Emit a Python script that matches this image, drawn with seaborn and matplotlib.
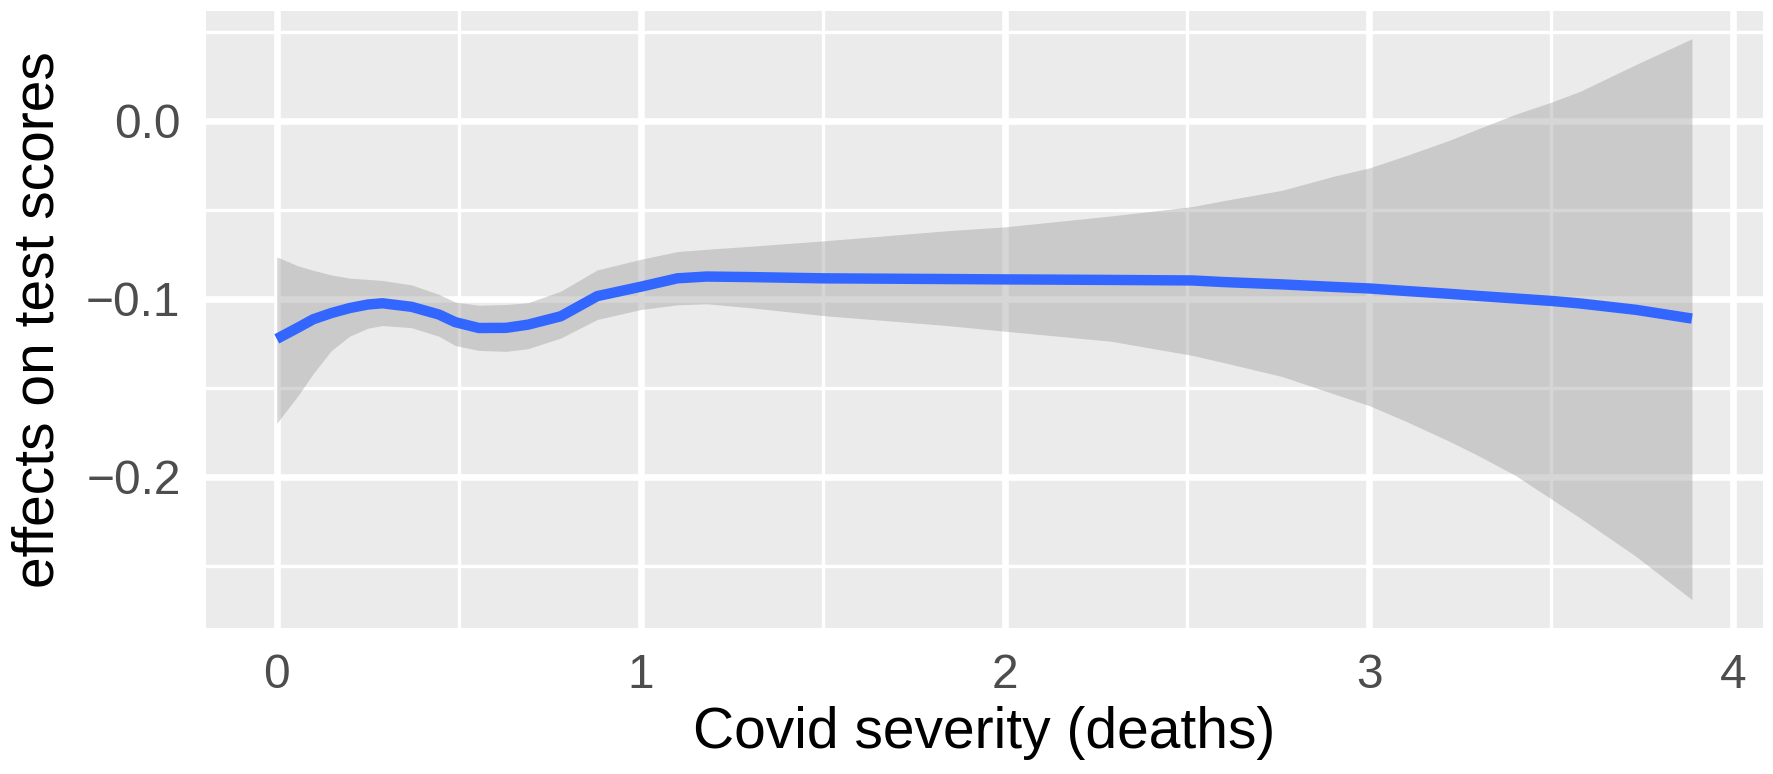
import matplotlib
matplotlib.use("Agg")
import matplotlib.pyplot as plt
import seaborn as sns
import numpy as np
import pandas as pd
from matplotlib.ticker import FixedLocator

# ---- data ----
severity = [0.00, 0.06, 0.10, 0.15, 0.20, 0.25, 0.29, 0.37, 0.445, 0.49, 0.555, 0.63,
            0.69, 0.78, 0.88, 1.00, 1.10, 1.18, 1.30, 1.50, 1.84, 2.00, 2.29, 2.515,
            2.60, 2.76, 2.90, 3.00, 3.10, 3.22, 3.30, 3.40, 3.50, 3.578, 3.733, 3.886]
effect = [-0.1225, -0.1160, -0.1115, -0.1080, -0.1052, -0.1032, -0.1025, -0.1045, -0.1088,
          -0.1131, -0.1164, -0.1163, -0.1145, -0.1098, -0.0985, -0.0932, -0.0885, -0.0875,
          -0.0878, -0.0885, -0.0889, -0.0891, -0.0894, -0.0897, -0.0906, -0.0919, -0.0933,
          -0.0942, -0.0956, -0.0972, -0.0984, -0.0998, -0.1012, -0.1026, -0.1062, -0.1111]
upper = [-0.0765, -0.0816, -0.0840, -0.0866, -0.0884, -0.0891, -0.0897, -0.0922, -0.0975,
         -0.1018, -0.1036, -0.1032, -0.1022, -0.0957, -0.0838, -0.0778, -0.0735, -0.0722,
         -0.0705, -0.0675, -0.0618, -0.0596, -0.0535, -0.0482, -0.0449, -0.0391, -0.0313,
         -0.0265, -0.0197, -0.0110, -0.0045, 0.0035, 0.0104, 0.0164, 0.0316, 0.0460]
lower = [-0.1699, -0.1539, -0.1420, -0.1290, -0.1210, -0.1165, -0.1150, -0.1162, -0.1210,
         -0.1262, -0.1290, -0.1295, -0.1280, -0.1220, -0.1116, -0.1060, -0.1034, -0.1028,
         -0.1050, -0.1094, -0.1150, -0.1182, -0.1238, -0.1318, -0.1358, -0.1436, -0.1532,
         -0.1600, -0.1687, -0.1800, -0.1881, -0.1990, -0.2124, -0.2229, -0.2447, -0.2689]

x_ticks = [0, 1, 2, 3, 4]
x_ticklabels = ["0", "1", "2", "3", "4"]
y_ticks = [0.0, -0.1, -0.2]
y_ticklabels = ["0.0", "\u22120.1", "\u22120.2"]
x_minor = [0.5, 1.5, 2.5, 3.5]
y_minor = [0.05, -0.05, -0.15, -0.25]
x_title = "Covid severity (deaths)"
y_title = "effects on test scores"

df = pd.DataFrame({"severity": severity, "effect": effect, "lower": lower, "upper": upper})

sns.set_style("darkgrid")
plt.rcParams["font.family"] = ["Liberation Sans", "DejaVu Sans"]

W, H, DPI = 1774, 774, 100
fig = plt.figure(figsize=(W / DPI, H / DPI), dpi=DPI)
ax = fig.add_axes([206 / W, 1 - 627.7 / H, (1762.7 - 206) / W, (627.7 - 10.7) / H])

ax.set_facecolor("#EBEBEB")
for s in ax.spines.values():
    s.set_visible(False)

# limits like ggplot (5% expansion)
xr = max(severity) - min(severity)
yr = max(upper) - min(lower)
ax.set_xlim(min(severity) - 0.05 * xr, max(severity) + 0.05 * xr)
ax.set_ylim(min(lower) - 0.05 * yr, max(upper) + 0.05 * yr)

ax.xaxis.set_major_locator(FixedLocator(x_ticks))
ax.yaxis.set_major_locator(FixedLocator(y_ticks))
ax.xaxis.set_minor_locator(FixedLocator(x_minor))
ax.yaxis.set_minor_locator(FixedLocator(y_minor))
ax.set_xticklabels(x_ticklabels)
ax.set_yticklabels(y_ticklabels)

ax.grid(which="major", color="white", linewidth=4.8)
ax.grid(which="minor", color="white", linewidth=2.4)
ax.set_axisbelow(True)

ax.tick_params(which="major", length=10.3, width=4.8, color="#333333",
               labelsize=34.5, labelcolor="#4D4D4D", pad=8)
ax.tick_params(which="minor", length=0)

ax.fill_between(df["severity"], df["lower"], df["upper"], color="#999999", alpha=0.4,
                linewidth=0, zorder=2)
sns.lineplot(data=df, x="severity", y="effect", ax=ax, color="#3366FF", linewidth=7.5,
             zorder=3, solid_capstyle="butt", solid_joinstyle="round")

ax.set_xlabel(x_title, fontsize=41, color="black", labelpad=6)
ax.set_ylabel(y_title, fontsize=41, color="black", labelpad=15)

fig.savefig("out.png", dpi=DPI)
